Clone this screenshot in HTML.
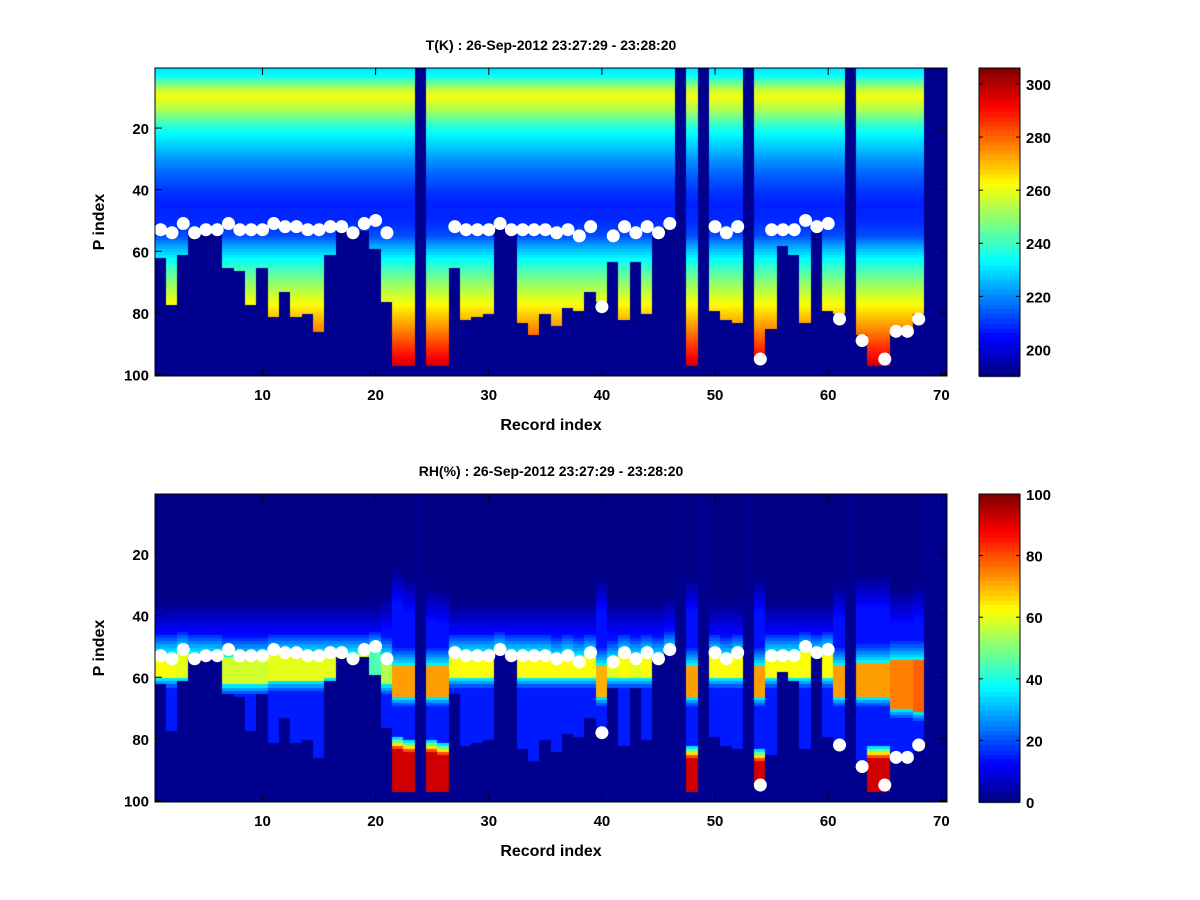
<!DOCTYPE html>
<html><head><meta charset="utf-8"><style>
html,body{margin:0;padding:0;background:#fff;}
#wrap{position:relative;width:1200px;height:900px;overflow:hidden;font-family:"Liberation Sans",sans-serif;}
canvas{position:absolute;left:0;top:0;}
svg{position:absolute;left:0;top:0;}
svg text{font-family:"Liberation Sans",sans-serif;font-weight:bold;fill:#000;}
</style></head><body>
<div id="wrap">
<canvas id="cv" width="1200" height="900"></canvas>
<svg id="sv" width="1200" height="900"></svg>
</div>
<script>
// ---- data ----
const records = Array.from({length:70},(_,i)=>i+1);
// last valid P index per record (0 = missing record)
const bottomP = [62,77,61,53,53,53,65,66,77,65,81,73,81,80,86,61,53,53,53,59,76,97,97,0,97,97,65,82,81,80,51,51,83,87,80,84,78,79,73,76,63,82,63,80,53,51,0,97,0,79,82,83,0,94,85,58,61,83,51,79,80,0,87,97,97,85,85,80,0,0];
// white marker P index per record (0 = none)
const dotP = [53,54,51,54,53,53,51,53,53,53,51,52,52,53,53,52,52,54,51,50,54,0,0,0,0,0,52,53,53,53,51,53,53,53,53,54,53,55,52,78,55,52,54,52,54,51,0,0,0,52,54,52,0,95,53,53,53,50,52,51,82,0,89,0,95,86,86,82,0,0];
// temperature profile key levels
const tLevels = [1,3,5,8,10,13,16,20,25,30,35,40,45,50,55,60,65,70,75,80,85,90,95,97,100];
const tValues = [231,234,243,257,261,256,248,237,229,222,216,211,208,209,213,227,239,249,258,267,275,284,292,297,300];
// RH column parameters
const rhTop =    [36,36,36,36,36,36,36,36,36,36,36,36,36,36,36,36,36,36,36,36,34,25,28,36,31,32,36,36,36,36,36,36,36,36,36,36,36,36,36,28,36,36,36,36,36,34,36,28,36,36,36,36,36,28,36,36,36,36,36,36,30,36,27,27,27,32,32,30,36,36];
const rhLayerStart=[53,53,52,53,53,53,54,54,54,54,53,53,53,53,53,53,53,53,53,52,54,57,57,53,57,57,53,53,53,53,52,53,53,53,53,54,53,54,53,57,55,53,54,53,54,52,53,57,53,53,54,53,53,57,53,53,53,52,53,52,57,53,56,56,56,55,55,55,53,53];
const rhLayerEnd=[60,60,60,60,60,60,62,62,62,62,61,61,61,61,61,60,60,60,60,60,62,66,66,60,66,66,60,60,60,60,60,60,60,60,60,60,60,60,60,66,60,60,60,60,60,60,60,66,60,60,60,60,60,66,60,60,60,60,60,60,66,60,66,66,66,70,70,71,60,60];
const rhPeak =   [62,62,60,60,60,60,58,58,58,58,60,60,60,60,60,60,60,60,60,45,55,72,72,60,72,72,62,62,62,62,60,62,62,62,62,62,62,62,62,70,60,62,60,62,60,60,60,72,60,62,62,62,60,72,62,62,62,62,60,62,72,60,72,72,72,75,75,78,60,60];
const rhWetStart=[0,0,0,0,0,0,0,0,0,0,0,0,0,0,0,0,0,0,0,0,0,83,84,0,84,85,0,0,0,0,0,0,0,0,0,0,0,0,0,0,0,0,0,0,0,0,0,86,0,0,0,0,0,87,0,0,0,0,0,0,0,0,0,86,86,0,0,0,0,0];
const xTicks=[10,20,30,40,50,60,70];
const yTicks=[20,40,60,80,100];
const tBarTicks=[200,220,240,260,280,300];
const rhBarTicks=[0,20,40,60,80,100];

// ---- geometry ----
const AX={x0:155,x1:947};
const panels=[{y0:68,y1:376,title:"T(K) : 26-Sep-2012 23:27:29 - 23:28:20",vmin:190,vmax:306,ticks:tBarTicks,kind:'t'},
              {y0:494,y1:802,title:"RH(%) : 26-Sep-2012 23:27:29 - 23:28:20",vmin:0,vmax:100,ticks:rhBarTicks,kind:'rh'}];
const CB={x0:979,x1:1020};
const xs=v=>AX.x0+(v-0.5)*(AX.x1-AX.x0)/70;
const ysF=pn=>v=>pn.y0+(v-0.5)*(pn.y1-pn.y0)/100;

function jet(v){v=Math.max(0,Math.min(1,v));const c=x=>Math.round(255*Math.max(0,Math.min(1,1.5-Math.abs(4*v-x))));return `rgb(${c(3)},${c(2)},${c(1)})`;}
const BG='#00008f';
function tAt(p){for(let i=0;i<tLevels.length-1;i++){if(p>=tLevels[i]&&p<=tLevels[i+1]){const f=(p-tLevels[i])/(tLevels[i+1]-tLevels[i]);return tValues[i]+f*(tValues[i+1]-tValues[i]);}}return tValues[tValues.length-1];}
function rhAt(c,p){
  const top=rhTop[c],ls=rhLayerStart[c],le=rhLayerEnd[c],pk=rhPeak[c],w=rhWetStart[c];
  if(p<top) return 0.5;
  let v=Math.min(14,1+(p-top)*1.2);
  if(p>=ls-7&&p<ls) v=v+(40-v)*(p-(ls-7))/7;
  if(p>=ls&&p<=le) v=pk;
  if(p>le){v=Math.max(15,42-(p-le)*7);}
  if(w&&p>=w-3){const d=p-(w-3); v = d<1?35:d<2?48:d<3?65:d<4?80:92;}
  return v;
}

const cv=document.getElementById('cv'),ctx=cv.getContext('2d');
const sv=document.getElementById('sv');const NS='http://www.w3.org/2000/svg';
function mk(tag,attrs,parent){const e=document.createElementNS(NS,tag);for(const k in attrs)e.setAttribute(k,attrs[k]);(parent||sv).appendChild(e);return e;}

panels.forEach((pn,pi)=>{
  const ys=ysF(pn);
  ctx.fillStyle=BG;ctx.fillRect(AX.x0,pn.y0,AX.x1-AX.x0,pn.y1-pn.y0);
  records.forEach((r,c)=>{
    const b=bottomP[c]; if(!b) return;
    for(let p=1;p<=b;p++){
      const val=pn.kind==='t'?tAt(p):rhAt(c,p);
      ctx.fillStyle=jet((val-pn.vmin)/(pn.vmax-pn.vmin));
      const x0=Math.floor(xs(r-0.5)),x1=Math.floor(xs(r+0.5));
      const y0=Math.floor(ys(p-0.5)),y1=Math.floor(ys(p+0.5));
      ctx.fillRect(x0,y0,x1-x0,y1-y0);
    }
  });
  // colorbar
  for(let i=0;i<64;i++){
    ctx.fillStyle=jet((i+0.5)/64);
    const h=(pn.y1-pn.y0)/64;
    ctx.fillRect(CB.x0,Math.floor(pn.y1-(i+1)*h),CB.x1-CB.x0,Math.ceil(h)+1);
  }
  const g=mk('g',{});
  
  
  // dots
  records.forEach((r,c)=>{
    if(!dotP[c]) return;
    const d=mk('circle',{cx:xs(r),cy:ys(dotP[c]),r:6.5,fill:'#fff'},g);
    
    
  });
  const fr=mk('rect',{x:AX.x0,y:pn.y0,width:AX.x1-AX.x0,height:pn.y1-pn.y0,fill:'none',stroke:'#000','stroke-width':1},g);
  
  
  xTicks.forEach(t=>{
    const x=xs(t);
    mk('line',{x1:x,x2:x,y1:pn.y1,y2:pn.y1-7,stroke:'#000'},g);
    mk('line',{x1:x,x2:x,y1:pn.y0,y2:pn.y0+7,stroke:'#000'},g);
    const tx=mk('text',{x:x,y:pn.y1+24,'text-anchor':'middle','font-size':15},g);tx.textContent=t;
    
    
  });
  yTicks.forEach(t=>{
    const y=ys(t);
    mk('line',{x1:AX.x0,x2:AX.x0+7,y1:y,y2:y,stroke:'#000'},g);
    mk('line',{x1:AX.x1,x2:AX.x1-7,y1:y,y2:y,stroke:'#000'},g);
    const tx=mk('text',{x:AX.x0-6,y:y+6,'text-anchor':'end','font-size':15},g);tx.textContent=t;
    
    
  });
  const ti=mk('text',{x:551,y:pn.y0-18,'text-anchor':'middle','font-size':14},g);ti.textContent=pn.title;
  
  
  const xl=mk('text',{x:551,y:pn.y1+54,'text-anchor':'middle','font-size':16},g);xl.textContent='Record index';
  
  
  const yl=mk('text',{x:0,y:0,'text-anchor':'middle','font-size':16,transform:`translate(104,${(pn.y0+pn.y1)/2}) rotate(-90)`},g);yl.textContent='P index';
  
  
  // colorbar frame & ticks
  const cb=mk('rect',{x:CB.x0,y:pn.y0,width:CB.x1-CB.x0,height:pn.y1-pn.y0,fill:'none',stroke:'#000'},g);
  
  
  pn.ticks.forEach(t=>{
    const y=pn.y1-(t-pn.vmin)/(pn.vmax-pn.vmin)*(pn.y1-pn.y0);
    mk('line',{x1:CB.x0,x2:CB.x0+4,y1:y,y2:y,stroke:'#000'},g);
    mk('line',{x1:CB.x1,x2:CB.x1-4,y1:y,y2:y,stroke:'#000'},g);
    const tx=mk('text',{x:CB.x1+6,y:y+6,'font-size':15},g);tx.textContent=t;
    
    
  });
});
</script>
</body></html>
